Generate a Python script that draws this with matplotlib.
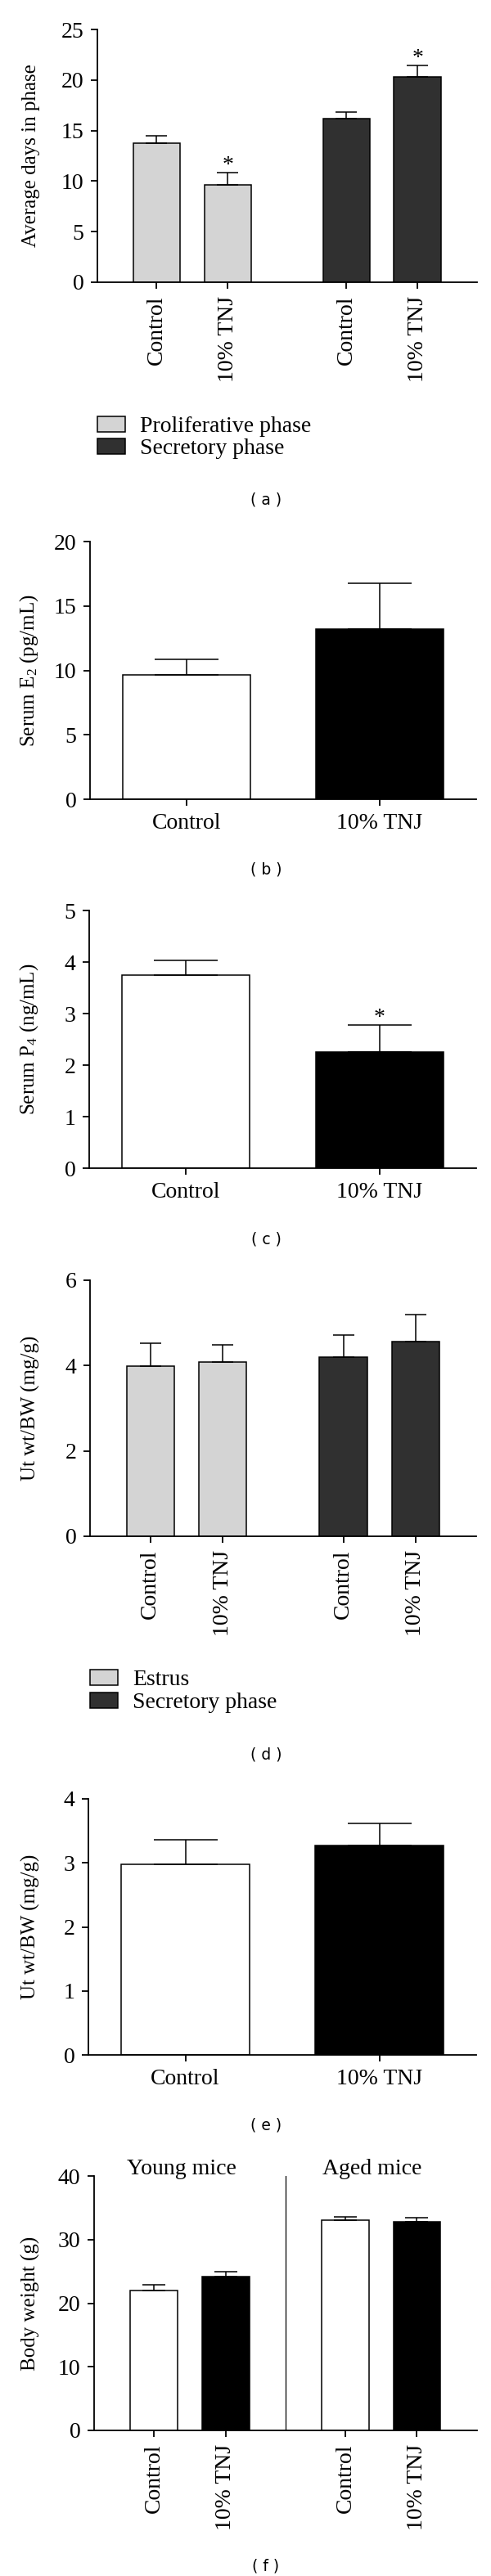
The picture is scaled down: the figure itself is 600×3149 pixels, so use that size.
import matplotlib
matplotlib.use("Agg")
import matplotlib.pyplot as plt
from matplotlib.patches import Patch
from matplotlib import transforms

plt.rcParams["font.family"] = ["Liberation Serif", "DejaVu Serif"]
plt.rcParams["mathtext.fontset"] = "custom"
plt.rcParams["mathtext.rm"] = "Liberation Serif"
plt.rcParams["mathtext.it"] = "Liberation Serif:italic"
plt.rcParams["font.size"] = 20
plt.rcParams["axes.linewidth"] = 1.3

# ---- data ----
labels_pair = ["Control", "10% TNJ"]

# (a) average days in phase
a_prolif = [13.75, 9.65]
a_prolif_err = [0.70, 1.20]
a_secret = [16.15, 20.30]
a_secret_err = [0.67, 1.12]

# (b) serum E2
b_vals = [9.62, 13.20]
b_err = [1.25, 3.55]

# (c) serum P4
c_vals = [3.74, 2.25]
c_err = [0.29, 0.52]

# (d) Ut wt/BW by phase
d_estrus = [3.98, 4.08]
d_estrus_err = [0.55, 0.40]
d_secret = [4.20, 4.57]
d_secret_err = [0.52, 0.63]

# (e) Ut wt/BW
e_vals = [2.98, 3.27]
e_err = [0.38, 0.35]

# (f) body weight
f_young = [22.05, 24.2]
f_young_err = [0.8, 0.7]
f_aged = [33.0, 32.8]
f_aged_err = [0.6, 0.7]

LIGHT = "#d4d4d4"
DARK = "#303030"

W, H = 600, 3149
fig = plt.figure(figsize=(W / 100, H / 100), dpi=100)


def panel(left, right, top, bottom):
    return fig.add_axes([left / W, 1 - bottom / H, (right - left) / W, (bottom - top) / H])


def style(ax, ymax, step, ylabel):
    ax.spines["top"].set_visible(False)
    ax.spines["right"].set_visible(False)
    ax.set_ylim(0, ymax)
    ax.set_yticks(range(0, ymax + 1, step))
    ax.tick_params(direction="out", length=6, width=1.3, pad=6, labelsize=20)
    ax.set_ylabel(ylabel, fontsize=18)
    tr = transforms.blended_transform_factory(fig.transFigure, ax.transAxes)
    ax.yaxis.set_label_coords(49 / W, 0.5, transform=tr)


def draw_bars(ax, x, vals, errs, color, width, cap):
    ax.bar(x, vals, width, color=color, edgecolor="black", linewidth=1.1, zorder=2)
    ax.errorbar(x, vals, yerr=[[0] * len(vals), errs], fmt="none", ecolor="black",
                elinewidth=1.1, capsize=cap, capthick=1.1, zorder=3)


def star(ax, x, top):
    ax.annotate("*", (x, top), xytext=(0, 1.5), textcoords="offset points",
                ha="center", va="baseline", fontsize=20)


def caption(text, y):
    fig.text(325 / W, 1 - y / H, text, ha="center", va="center",
             fontsize=13.5, family="DejaVu Sans")


gap = 2.67  # distance between the two groups in grouped panels
x1 = [0, 1]
x2 = [gap, gap + 1]
bw = 0.66

# ---- (a) ----
ax = panel(119, 583, 36, 345)
draw_bars(ax, x1, a_prolif, a_prolif_err, LIGHT, bw, 9.7)
draw_bars(ax, x2, a_secret, a_secret_err, DARK, bw, 9.7)
star(ax, x1[1], a_prolif[1] + a_prolif_err[1])
star(ax, x2[1], a_secret[1] + a_secret_err[1])
style(ax, 25, 5, "Average days in phase")
ax.set_xlim(-0.835, 4.51)
ax.set_xticks(x1 + x2, labels_pair * 2, rotation=90)
fig.legend([Patch(facecolor=LIGHT, edgecolor="black", linewidth=1.1),
            Patch(facecolor=DARK, edgecolor="black", linewidth=1.1)],
           ["Proliferative phase", "Secretory phase"],
           loc="upper left", bbox_to_anchor=(119 / W, 1 - 509 / H), frameon=False,
           borderpad=0, borderaxespad=0, handlelength=1.22, handleheight=0.68,
           handletextpad=0.65, labelspacing=0.05, fontsize=20)
caption("( a )", 611)

# ---- (b) ----
ax = panel(110, 582, 662, 977)
draw_bars(ax, x1, b_vals, b_err, ["white", "black"], bw, 28)
style(ax, 20, 5, "Serum E$_2$ (pg/mL)")
ax.set_xlim(-0.5, 1.5)
ax.set_xticks(x1, labels_pair)
caption("( b )", 1063)

# ---- (c) ----
ax = panel(109, 582, 1113, 1428)
draw_bars(ax, x1, c_vals, c_err, ["white", "black"], bw, 28)
star(ax, x1[1], c_vals[1] + c_err[1])
style(ax, 5, 1, "Serum P$_4$ (ng/mL)")
ax.set_xlim(-0.5, 1.5)
ax.set_xticks(x1, labels_pair)
caption("( c )", 1515)

# ---- (d) ----
ax = panel(110, 582, 1565, 1878)
draw_bars(ax, x1, d_estrus, d_estrus_err, LIGHT, bw, 9.7)
draw_bars(ax, x2, d_secret, d_secret_err, DARK, bw, 9.7)
style(ax, 6, 2, "Ut wt/BW (mg/g)")
ax.set_xlim(-0.835, 4.51)
ax.set_xticks(x1 + x2, labels_pair * 2, rotation=90)
fig.legend([Patch(facecolor=LIGHT, edgecolor="black", linewidth=1.1),
            Patch(facecolor=DARK, edgecolor="black", linewidth=1.1)],
           ["Estrus", "Secretory phase"],
           loc="upper left", bbox_to_anchor=(110 / W, 1 - 2041 / H), frameon=False,
           borderpad=0, borderaxespad=0, handlelength=1.22, handleheight=0.68,
           handletextpad=0.65, labelspacing=0.1, fontsize=20)
caption("( d )", 2145)

# ---- (e) ----
ax = panel(108, 582, 2199, 2512)
draw_bars(ax, x1, e_vals, e_err, ["white", "black"], bw, 28)
style(ax, 4, 1, "Ut wt/BW (mg/g)")
ax.set_xlim(-0.5, 1.5)
ax.set_xticks(x1, labels_pair)
caption("( e )", 2598)

# ---- (f) ----
ax = panel(115, 583, 2660, 2971)
draw_bars(ax, x1, f_young, f_young_err, ["white", "black"], bw, 10)
draw_bars(ax, x2, f_aged, f_aged_err, ["white", "black"], bw, 10)
style(ax, 40, 10, "Body weight (g)")
ax.set_xlim(-0.835, 4.51)
ax.set_xticks(x1 + x2, labels_pair * 2, rotation=90)
ax.axvline((x1[1] + x2[0]) / 2, color="black", linewidth=0.9)
top = transforms.blended_transform_factory(ax.transData, ax.transAxes)
ax.text(0.39, 1.005, "Young mice", transform=top, ha="center", va="baseline", fontsize=20)
ax.text(3.04, 1.005, "Aged mice", transform=top, ha="center", va="baseline", fontsize=20)
caption("( f )", 3137)

fig.savefig("out.png", dpi=100)
